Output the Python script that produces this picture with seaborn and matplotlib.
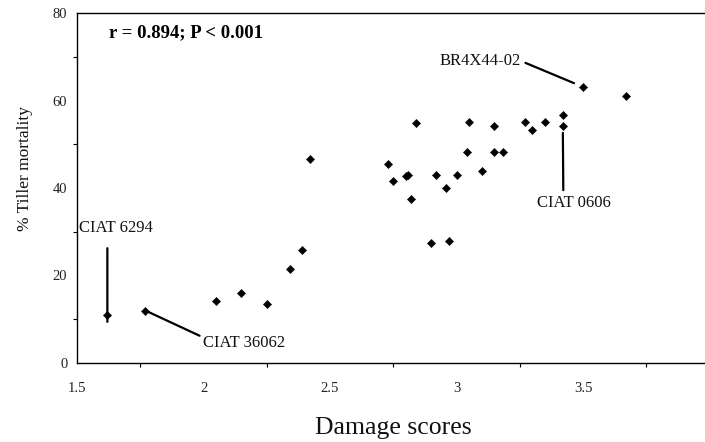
import matplotlib
matplotlib.use("Agg")
import matplotlib.pyplot as plt
from matplotlib.ticker import MultipleLocator, FuncFormatter
from matplotlib.transforms import ScaledTranslation
import pandas as pd
import seaborn as sns

# Damage score vs. percent tiller mortality per genotype
damage_scores = [1.62, 1.77, 2.05, 2.15, 2.25, 2.34, 2.39, 2.42,
                 2.73, 2.75, 2.80, 2.81, 2.82, 2.84, 2.90, 2.92,
                 2.96, 2.97, 3.00, 3.04, 3.05, 3.10, 3.15, 3.15,
                 3.185, 3.27, 3.30, 3.35, 3.42, 3.42, 3.50, 3.67]
tiller_mortality = [11.0, 12.0, 14.2, 16.0, 13.6, 21.5, 25.9, 46.6,
                    45.6, 41.6, 42.8, 43.0, 37.4, 54.9, 27.5, 43.0,
                    40.1, 28.0, 43.0, 48.2, 55.0, 44.0, 54.2, 48.2,
                    48.2, 55.0, 53.3, 55.0, 56.7, 54.2, 63.1, 61.0]
genotype_labels = [""] * len(damage_scores)
genotype_labels[0] = "CIAT 6294"
genotype_labels[1] = "CIAT 36062"
genotype_labels[29] = "CIAT 0606"
genotype_labels[30] = "BR4X44-02"

stats_text = "r = 0.894; P < 0.001"

df = pd.DataFrame({"damage": damage_scores, "mortality": tiller_mortality,
                   "genotype": genotype_labels})

sns.set_theme(style="white")
plt.rcParams["font.family"] = ["Liberation Serif", "DejaVu Serif"]

fig = plt.figure(figsize=(7.05, 4.42), dpi=100)
ax = fig.add_axes([77 / 705, 79 / 442, 628 / 705, 350 / 442])

sns.scatterplot(data=df, x="damage", y="mortality", marker="D", s=18,
                color="black", edgecolor="black", linewidth=0.3,
                ax=ax, zorder=5, legend=False)

ax.set_xlim(1.5, 3.982)
ax.set_ylim(0, 80)
ax.xaxis.set_major_locator(MultipleLocator(0.5))
ax.xaxis.set_minor_locator(MultipleLocator(0.25))
ax.yaxis.set_major_locator(MultipleLocator(20))
ax.yaxis.set_minor_locator(MultipleLocator(10))
ax.xaxis.set_major_formatter(FuncFormatter(lambda v, p: f"{v:g}"))
ax.yaxis.set_major_formatter(FuncFormatter(lambda v, p: f"{v:g}"))
ax.tick_params(which="both", direction="out", length=3, width=0.8,
               color="black", labelcolor="#222222", labelsize=10.5)
ax.tick_params(axis="x", which="major", pad=11)
ax.tick_params(axis="y", which="major", pad=4)
ax.tick_params(which="minor", bottom=True, left=True)

for side in ["left", "bottom", "top"]:
    ax.spines[side].set_visible(True)
    ax.spines[side].set_color("black")
    ax.spines[side].set_linewidth(1.0)
ax.spines["right"].set_visible(False)

ax.set_xlabel("Damage scores", fontsize=18.5, color="#111111")
ax.set_ylabel("% Tiller mortality", fontsize=12.5, color="#111111")
ax.xaxis.set_label_coords(0.503, -0.155)
ax.yaxis.set_label_coords(-0.070, 0.557)

ax.text(0.051, 0.943, stats_text, transform=ax.transAxes, fontsize=13.5,
        fontweight="bold", ha="left", va="center", color="black")

line_kw = dict(arrowstyle="-", color="black", lw=1.6)
label_kw = dict(fontsize=12, ha="center", va="center", color="#111111")

def point(name):
    i = genotype_labels.index(name)
    return damage_scores[i], tiller_mortality[i]

# BR4X44-02: label above-left, leader to the point
ax.annotate("BR4X44-02", xy=point("BR4X44-02"), xytext=(-74, 18.7),
            textcoords="offset points",
            arrowprops=dict(relpos=(1.0, 0.5), shrinkA=1, shrinkB=7, **line_kw),
            **label_kw)

# CIAT 0606: label below, vertical leader
ax.annotate("CIAT 0606", xy=point("CIAT 0606"), xytext=(8.1, -55.4),
            textcoords="offset points",
            arrowprops=dict(relpos=(0.355, 1.0), shrinkA=1, shrinkB=5, **line_kw),
            **label_kw)

# CIAT 6294: label above, vertical leader running just past the point
ax.annotate("CIAT 6294", xy=point("CIAT 6294"), xytext=(6, 62.6),
            textcoords="offset points", **label_kw)
below = ax.transData + ScaledTranslation(0, -5 / 72, fig.dpi_scale_trans)
ax.annotate("", xy=point("CIAT 6294"), xycoords=below, xytext=(0, 53),
            textcoords="offset points",
            arrowprops=dict(shrinkA=0, shrinkB=0, **line_kw))

# CIAT 36062: label below-right, diagonal leader from the point
ax.annotate("CIAT 36062", xy=point("CIAT 36062"), xytext=(71, -23.3),
            textcoords="offset points",
            arrowprops=dict(relpos=(0.0, 0.85), shrinkA=0, shrinkB=0, **line_kw),
            **label_kw)

fig.savefig("out.png", dpi=100)
